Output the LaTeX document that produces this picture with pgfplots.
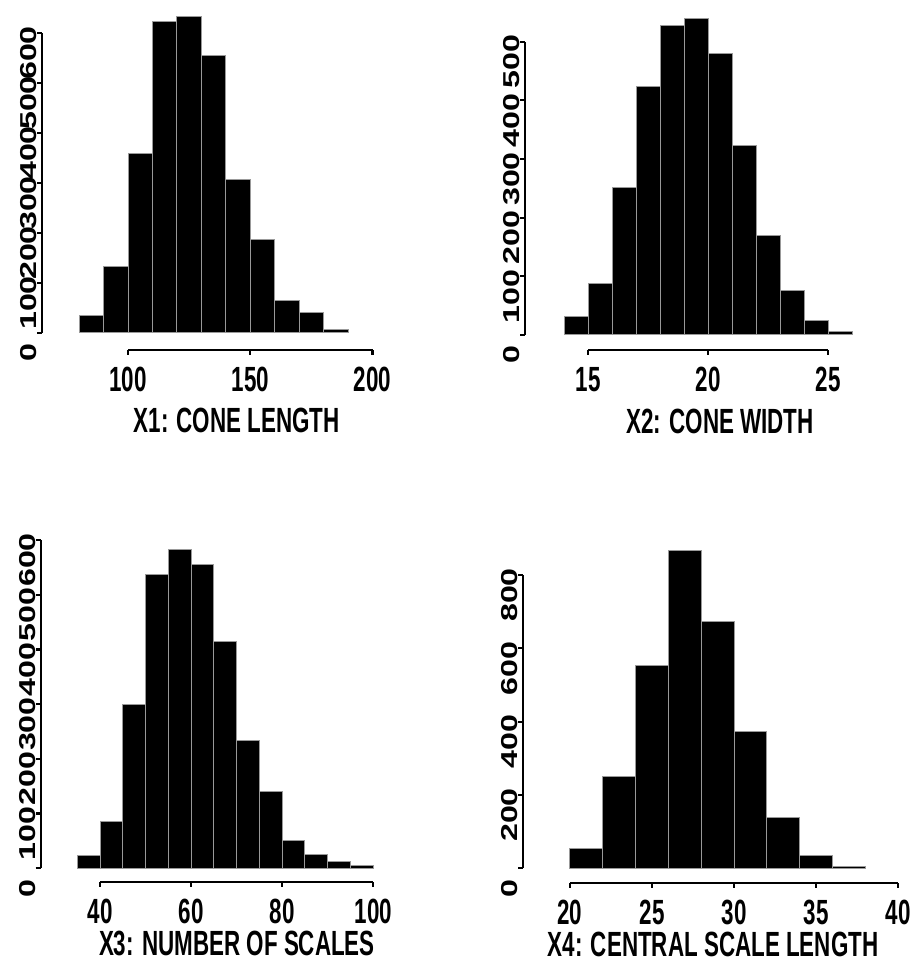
\documentclass[border=0pt]{standalone}
\usepackage{fontspec}
\usepackage{pgfplots}
\pgfplotsset{compat=1.18}
\newfontfamily\narrowfont[FakeStretch=0.64]{Liberation Sans}
\newfontfamily\widefont[FakeStretch=1.4]{Liberation Sans}

% 1 px of the reference = 0.5pt
\pgfplotsset{
  rhist/.style={
    clip=false,
    axis x line*=bottom, axis y line*=left,
    axis line style={draw=none},
    tick align=outside,
    major tick length=2.5pt,
    every tick/.style={black, line width=1.1pt},
    minor tick num=0,
    scaled ticks=false,
    /pgf/number format/assume math mode=true,
    /pgf/number format/1000 sep={},
    xticklabel style={font=\narrowfont\bfseries\fontsize{17.5}{17.5}\selectfont, anchor=north, inner sep=0pt, yshift=-6pt},
    yticklabel style={font=\widefont\bfseries\fontsize{11.5}{11.5}\selectfont, rotate=90, anchor=south, inner sep=0pt, xshift=-10pt},
    xlabel style={font=\narrowfont\bfseries\fontsize{17.5}{17.5}\selectfont, anchor=center},
  },
  bars/.style={ybar interval, fill=black, draw=black!40, line width=0.5pt},
}
\tikzset{axline/.style={line width=1.1pt, black}}

\begin{document}
\begin{tikzpicture}
\useasboundingbox (0,0) rectangle (457pt,485.5pt);

% X1
\begin{axis}[rhist, at={(21pt,310.5pt)}, anchor=south west,
    x=1.2225pt, y=0.25pt, xmin=64.8, xmax=200, ymin=-34, ymax=650,
    xtick={100,150,200}, ytick={0,100,...,600},
    xlabel={X1: CONE LENGTH},
    xlabel style={at={(rel axis cs:0.589,0)}, yshift=-35pt}]
\addplot[bars] coordinates {
  (80,35)(90,133)(100,359)(110,623)(120,633)(130,555)
  (140,307)(150,187)(160,65)(170,40)(180,7)(190,0)};
\draw[axline] (axis cs:64.8,0) -- (axis cs:64.8,600);
\draw[axline] (axis cs:100,-34) -- (axis cs:200,-34);
\end{axis}

% X2
\begin{axis}[rhist, at={(262.5pt,310.5pt)}, anchor=south west,
    x=12pt, y=0.2933pt, xmin=12.36, xmax=25, ymin=-25.6, ymax=560,
    xtick={15,20,25}, ytick={0,100,...,500},
    xlabel={X2: CONE WIDTH},
    xlabel style={at={(rel axis cs:0.643,0)}, yshift=-35.8pt}]
\addplot[bars] coordinates {
  (14,31)(15,88)(16,251)(17,423)(18,527)(19,540)(20,479)
  (21,323)(22,169)(23,76)(24,24)(25,6)(26,0)};
\draw[axline] (axis cs:12.36,0) -- (axis cs:12.36,500);
\draw[axline] (axis cs:15,-25.6) -- (axis cs:25,-25.6);
\end{axis}

% X3
\begin{axis}[rhist, at={(20.35pt,44.65pt)}, anchor=south west,
    x=2.2775pt, y=0.2736pt, xmin=26.98, xmax=100, ymin=-24.5, ymax=602,
    xtick={40,60,80,100}, ytick={0,100,...,600},
    xlabel={X3: NUMBER OF SCALES},
    xlabel style={at={(rel axis cs:0.59,0)}, yshift=-30.7pt}]
\addplot[bars] coordinates {
  (35,23)(40,85)(45,300)(50,536)(55,582)(60,556)(65,414)
  (70,233)(75,141)(80,50)(85,26)(90,12)(95,6)(100,0)};
\draw[axline] (axis cs:26.98,0) -- (axis cs:26.98,600);
\draw[axline] (axis cs:40,-24.5) -- (axis cs:100,-24.5);
\end{axis}

% X4
\begin{axis}[rhist, at={(261.65pt,44.15pt)}, anchor=south west,
    x=8.21pt, y=0.1833pt, xmin=17.16, xmax=40, ymin=-39.3, ymax=899,
    xtick={20,25,...,40}, ytick={0,200,...,800},
    xlabel={X4: CENTRAL SCALE LENGTH},
    xlabel style={at={(rel axis cs:0.506,0)}, yshift=-31pt}]
\addplot[bars] coordinates {
  (20,55)(22,250)(24,553)(26,868)(28,673)(30,373)
  (32,139)(34,36)(36,5)(38,0)};
\draw[axline] (axis cs:17.16,0) -- (axis cs:17.16,800);
\draw[axline] (axis cs:20,-39.3) -- (axis cs:40,-39.3);
\end{axis}
\end{tikzpicture}
\end{document}
